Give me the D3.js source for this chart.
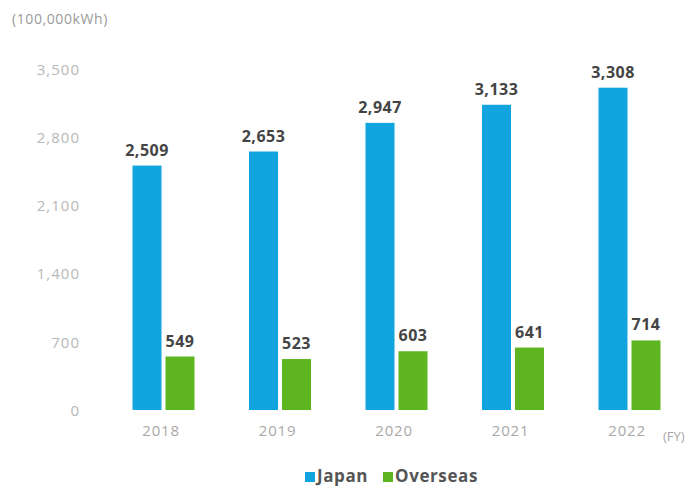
<!DOCTYPE html>
<html>
<head>
<meta charset="utf-8">
<script src="https://cdn.jsdelivr.net/npm/d3@7/dist/d3.min.js"></script>
<style>
  html, body { margin: 0; padding: 0; background: #fff; }
  svg { display: block; }
</style>
</head>
<body>
<svg id="chart" width="692" height="486"></svg>
<script>
const years = ["2018", "2019", "2020", "2021", "2022"];
const japan = [2509, 2653, 2947, 3133, 3308];
const overseas = [549, 523, 603, 641, 714];
const yTicks = [0, 700, 1400, 2100, 2800, 3500];
const seriesNames = ["Japan", "Overseas"];
const colors = ["#12a4de", "#5db520"];

const svg = d3.select("#chart");
const lightFont = "'Open Sans', 'Lato', sans-serif";
const boldFont = "'Open Sans', 'Lato', sans-serif";

const x = d3.scalePoint().domain(years).range([162.5, 628.5]);
const y = d3.scaleLinear().domain([0, 3500]).range([410, 69]);
const barW = 29;
const gap = 4;

// unit label
svg.append("text").attr("x", 12).attr("y", 24)
  .attr("font-family", lightFont).attr("font-size", 14)
  .attr("letter-spacing", 0.6)
  .attr("fill", "#9a9a9a").text("(100,000kWh)");

// y axis labels
const yAxis = d3.axisLeft(y).tickValues(yTicks).tickSize(0).tickPadding(0)
  .tickFormat(d3.format(","));
const gy = svg.append("g").attr("transform", "translate(80,0)").call(yAxis);
gy.select(".domain").remove();
gy.selectAll("text").attr("font-family", lightFont).attr("font-size", 15)
  .attr("letter-spacing", 1)
  .attr("fill", "#b8b8b8").attr("dy", "0.35em");

// x axis labels
const xAxis = d3.axisBottom(x).tickSize(0).tickPadding(0);
const gx = svg.append("g").attr("transform", "translate(-2,425)").call(xAxis);
gx.select(".domain").remove();
gx.selectAll("text").attr("font-family", lightFont).attr("font-size", 15)
  .attr("letter-spacing", 0.8)
  .attr("fill", "#a8a8a8").attr("dy", "0.71em");

svg.append("text").attr("x", 663).attr("y", 441)
  .attr("font-family", lightFont).attr("font-size", 13)
  .attr("fill", "#a8a8a8").text("(FY)");

const data = [japan, overseas];
data.forEach((vals, si) => {
  const off = si === 0 ? -barW - gap / 2 + 1 : gap / 2 + 1;
  svg.append("g").selectAll("rect").data(vals).join("rect")
    .attr("x", (d, i) => x(years[i]) + off)
    .attr("y", d => y(d))
    .attr("width", barW)
    .attr("height", d => y(0) - y(d))
    .attr("fill", colors[si]);
  svg.append("g").selectAll("text").data(vals).join("text")
    .attr("x", (d, i) => x(years[i]) + off + barW / 2)
    .attr("y", d => y(d) - 10)
    .attr("text-anchor", "middle")
    .attr("font-family", boldFont).attr("font-weight", 700)
    .attr("font-size", 16).attr("letter-spacing", 0.5).attr("fill", "#444")
    .text(d => d3.format(",")(d));
});

// legend
const legendX = [305, 383];
seriesNames.forEach((name, i) => {
  svg.append("rect").attr("x", legendX[i]).attr("y", 472)
    .attr("width", 10).attr("height", 10).attr("fill", colors[i]);
  svg.append("text").attr("x", legendX[i] + 12).attr("y", 482)
    .attr("font-family", boldFont).attr("font-weight", 700)
    .attr("font-size", 17).attr("letter-spacing", 0.6)
    .attr("fill", "#555").text(name);
});
</script>
</body>
</html>
